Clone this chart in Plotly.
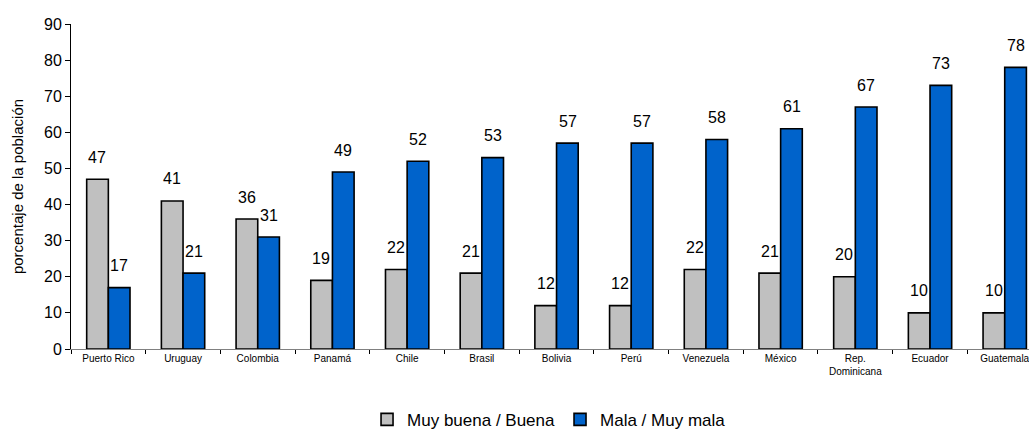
import plotly.graph_objects as go

paises = ["Puerto Rico", "Uruguay", "Colombia", "Panamá", "Chile", "Brasil", "Bolivia",
          "Perú", "Venezuela", "México", "Rep.<br>Dominicana", "Ecuador", "Guatemala"]
buena = [47, 41, 36, 19, 22, 21, 12, 12, 22, 21, 20, 10, 10]
mala = [17, 21, 31, 49, 52, 53, 57, 57, 58, 61, 67, 73, 78]

fig = go.Figure()
fig.add_trace(go.Bar(x=paises, y=buena, name="Muy buena / Buena",
                     marker=dict(color="#C0C0C0", line=dict(color="black", width=1.6))))
fig.add_trace(go.Bar(x=paises, y=mala, name="Mala / Muy mala",
                     marker=dict(color="#0063CB", line=dict(color="black", width=1.6))))

for i, p in enumerate(paises):
    fig.add_annotation(x=p, y=buena[i], text=str(buena[i]), showarrow=False,
                       xshift=-11, yshift=22, font=dict(size=16, color="black"))
    fig.add_annotation(x=p, y=mala[i], text=str(mala[i]), showarrow=False,
                       xshift=11, yshift=22, font=dict(size=16, color="black"))

fig.update_layout(
    width=1029, height=432,
    margin=dict(l=71, r=0, t=24, b=83, autoexpand=False),
    paper_bgcolor="white", plot_bgcolor="white",
    font=dict(family="Liberation Sans, Arial, sans-serif", color="black"),
    barmode="group", bargap=0.42, bargroupgap=0,
    showlegend=True,
    legend=dict(orientation="h", x=0.499, xanchor="center", y=-0.218, yanchor="middle",
                font=dict(size=17), itemwidth=30, traceorder="normal"),
)
fig.update_xaxes(range=[-0.5, 12.325], showline=True, linecolor="#808080", linewidth=1,
                 ticks="outside", tickson="boundaries", ticklen=4, tickcolor="black",
                 tickfont=dict(size=10), showgrid=False, automargin=False)
fig.update_yaxes(range=[0, 90], dtick=10, showline=True, linecolor="black", linewidth=1,
                 ticks="outside", ticklen=5, tickcolor="black", tickfont=dict(size=16),
                 showgrid=False, zeroline=False, automargin=False,
                 title=dict(text="porcentaje de la población", font=dict(size=15), standoff=16))

fig.write_html("out.html")
